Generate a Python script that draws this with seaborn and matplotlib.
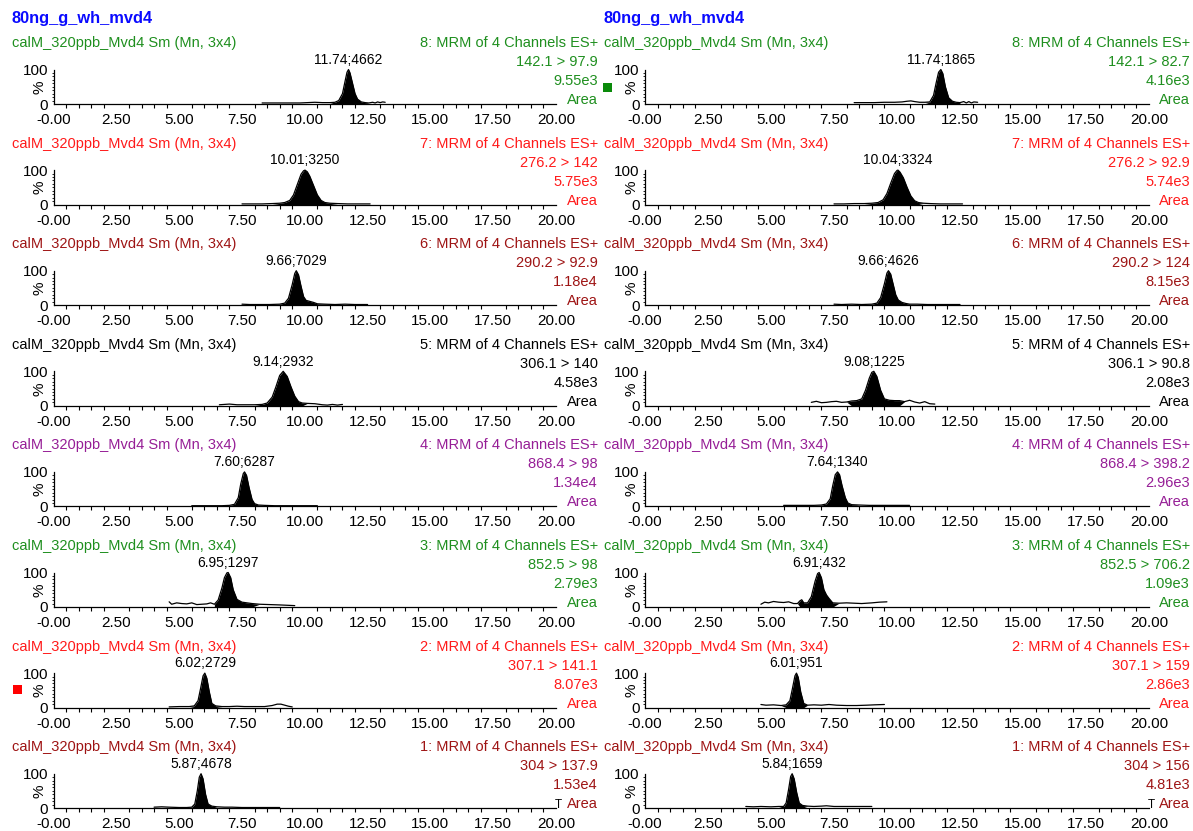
import numpy as np
import matplotlib
matplotlib.use("Agg")
import matplotlib.pyplot as plt
from matplotlib.patches import Rectangle
from matplotlib.ticker import FixedLocator, MultipleLocator
import seaborn as sns

# ---------------------------------------------------------------- data
sample_name = "80ng_g_wh_mvd4"
trace_title = "calM_320ppb_Mvd4 Sm (Mn, 3x4)"
channels = [8, 7, 6, 5, 4, 3, 2, 1]

transitions_left = ["142.1 > 97.9", "276.2 > 142", "290.2 > 92.9", "306.1 > 140",
                    "868.4 > 98", "852.5 > 98", "307.1 > 141.1", "304 > 137.9"]
transitions_right = ["142.1 > 82.7", "276.2 > 92.9", "290.2 > 124", "306.1 > 90.8",
                     "868.4 > 398.2", "852.5 > 706.2", "307.1 > 159", "304 > 156"]
intensity_left = ["9.55e3", "5.75e3", "1.18e4", "4.58e3", "1.34e4", "2.79e3", "8.07e3", "1.53e4"]
intensity_right = ["4.16e3", "5.74e3", "8.15e3", "2.08e3", "2.96e3", "1.09e3", "2.86e3", "4.81e3"]

peak_rt_left = [11.74, 10.01, 9.66, 9.14, 7.60, 6.95, 6.02, 5.87]
peak_area_left = [4662, 3250, 7029, 2932, 6287, 1297, 2729, 4678]
peak_rt_right = [11.74, 10.04, 9.66, 9.08, 7.64, 6.91, 6.01, 5.84]
peak_area_right = [1865, 3324, 4626, 1225, 1340, 432, 951, 1659]

# integration windows (min)
window_left = [(11.15, 12.5), (9.0, 11.0), (9.0, 10.8), (8.2, 10.0),
               (7.0, 8.3), (6.3, 8.0), (5.5, 6.5), (5.5, 6.4)]
window_right = [(11.2, 12.6), (9.0, 11.0), (9.0, 10.6), (8.2, 10.1),
                (7.0, 8.3), (6.1, 7.5), (5.6, 6.4), (5.5, 6.3)]

# chromatogram traces: retention time (min) and relative intensity (%)
rt_L8 = [8.3, 8.6, 9.0, 9.4, 9.8, 10.1, 10.4, 10.7, 11.0, 11.2, 11.35, 11.5, 11.6, 11.68, 11.74,
         11.8, 11.9, 12.0, 12.1, 12.25, 12.4, 12.55, 12.7, 12.8, 12.9, 13.0, 13.1, 13.2]
pct_L8 = [3, 3, 3, 3, 3, 4, 5, 4, 4, 5, 10, 30, 65, 92, 100,
          90, 60, 30, 14, 6, 4, 3, 5, 3, 6, 4, 6, 5]
rt_L7 = [7.5, 7.9, 8.3, 8.7, 9.0, 9.2, 9.4, 9.55, 9.7, 9.85, 9.95, 10.01, 10.1, 10.2, 10.35,
         10.5, 10.65, 10.8, 11.0, 11.3, 11.7, 12.1, 12.6]
pct_L7 = [2, 2, 2, 3, 4, 6, 12, 28, 58, 88, 98, 100, 95, 82, 55, 28, 12, 6, 4, 3, 2, 2, 2]
rt_L6 = [7.5, 7.8, 8.2, 8.6, 9.0, 9.2, 9.35, 9.5, 9.6, 9.66, 9.75, 9.85, 9.95, 10.05, 10.2,
         10.35, 10.5, 10.8, 11.2, 11.6, 12.0, 12.5]
pct_L6 = [3, 2, 2, 2, 3, 6, 20, 60, 92, 100, 88, 55, 25, 14, 11, 8, 4, 3, 2, 3, 2, 2]
rt_L5 = [6.6, 6.8, 7.0, 7.3, 7.6, 8.0, 8.3, 8.5, 8.7, 8.85, 9.0, 9.14, 9.3, 9.45, 9.6, 9.75,
         9.9, 10.1, 10.4, 10.7, 10.9, 11.1, 11.3, 11.5]
pct_L5 = [3, 4, 5, 3, 3, 3, 4, 8, 25, 55, 88, 100, 85, 55, 28, 12, 8, 7, 6, 3, 2, 4, 2, 4]
rt_L4 = [5.5, 5.9, 6.3, 6.7, 7.0, 7.2, 7.35, 7.45, 7.55, 7.6, 7.68, 7.78, 7.9, 8.0, 8.15,
         8.4, 8.8, 9.2, 9.6, 10.0, 10.5]
pct_L4 = [2, 2, 2, 2, 3, 6, 25, 65, 95, 100, 90, 55, 20, 8, 4, 3, 2, 2, 2, 2, 2]
rt_L3 = [4.6, 4.7, 4.9, 5.1, 5.3, 5.5, 5.7, 5.9, 6.1, 6.25, 6.4, 6.55, 6.7, 6.8, 6.9, 6.95,
         7.05, 7.15, 7.3, 7.5, 7.7, 7.9, 8.2, 8.6, 9.0, 9.3, 9.6]
pct_L3 = [15, 8, 12, 10, 9, 12, 7, 8, 9, 12, 8, 20, 55, 85, 99, 100,
          85, 50, 22, 14, 12, 10, 8, 7, 6, 5, 4]
rt_L2 = [4.6, 5.0, 5.4, 5.6, 5.75, 5.85, 5.95, 6.02, 6.1, 6.2, 6.3, 6.45, 6.7, 7.0, 7.3, 7.6,
         8.0, 8.4, 8.7, 8.9, 9.05, 9.2, 9.35, 9.5]
pct_L2 = [2, 3, 3, 5, 20, 55, 92, 100, 85, 45, 12, 5, 3, 3, 4, 3, 3, 3, 6, 10, 10, 7, 4, 2]
rt_L1 = [4.0, 4.3, 4.6, 5.0, 5.3, 5.5, 5.62, 5.72, 5.8, 5.87, 5.95, 6.05, 6.15, 6.3, 6.5,
         6.8, 7.1, 7.5, 8.0, 8.5, 9.0]
pct_L1 = [3, 4, 3, 2, 2, 3, 12, 50, 90, 100, 85, 40, 12, 6, 4, 3, 3, 2, 2, 2, 2]

rt_R8 = [8.3, 8.7, 9.1, 9.5, 9.9, 10.2, 10.4, 10.55, 10.7, 10.9, 11.1, 11.3, 11.45, 11.55,
         11.65, 11.74, 11.82, 11.92, 12.05, 12.2, 12.35, 12.5, 12.65, 12.75, 12.85, 12.95,
         13.05, 13.2]
pct_R8 = [4, 4, 4, 5, 5, 6, 8, 9, 7, 5, 5, 6, 25, 60, 92, 100, 88, 50, 18, 8, 5, 4, 7, 3, 7, 3, 6, 5]
rt_R7 = [7.5, 7.9, 8.3, 8.7, 9.0, 9.25, 9.45, 9.6, 9.75, 9.9, 10.0, 10.04, 10.12, 10.25, 10.4,
         10.55, 10.7, 10.85, 11.05, 11.3, 11.7, 12.1, 12.6]
pct_R7 = [2, 2, 3, 3, 4, 6, 14, 32, 62, 90, 99, 100, 94, 78, 50, 25, 11, 6, 4, 3, 2, 2, 2]
rt_R6 = [7.5, 7.8, 8.2, 8.6, 9.0, 9.2, 9.35, 9.5, 9.6, 9.66, 9.75, 9.85, 9.95, 10.05, 10.2,
         10.35, 10.5, 10.8, 11.2, 11.6, 12.0, 12.5]
pct_R6 = [3, 2, 3, 2, 3, 6, 22, 62, 93, 100, 90, 60, 30, 15, 8, 5, 3, 3, 2, 2, 2, 2]
rt_R5 = [6.6, 6.8, 7.0, 7.2, 7.4, 7.6, 7.8, 8.0, 8.2, 8.4, 8.6, 8.75, 8.9, 9.0, 9.08, 9.2,
         9.35, 9.5, 9.7, 9.9, 10.1, 10.3, 10.5, 10.7, 10.9, 11.1, 11.3, 11.5]
pct_R5 = [10, 13, 9, 10, 12, 13, 10, 11, 14, 15, 20, 45, 80, 97, 100, 85,
          45, 20, 16, 15, 15, 12, 16, 11, 8, 12, 6, 5]
rt_R4 = [5.5, 5.9, 6.3, 6.7, 7.0, 7.2, 7.35, 7.45, 7.55, 7.64, 7.72, 7.82, 7.95, 8.05, 8.2,
         8.5, 8.9, 9.3, 9.7, 10.1, 10.5]
pct_R4 = [3, 3, 3, 3, 4, 7, 22, 60, 92, 100, 92, 60, 25, 10, 5, 4, 3, 3, 3, 3, 3]
rt_R3 = [4.6, 4.75, 4.9, 5.1, 5.3, 5.5, 5.7, 5.9, 6.05, 6.15, 6.22, 6.3, 6.45, 6.6, 6.75,
         6.85, 6.91, 7.0, 7.1, 7.2, 7.3, 7.45, 7.7, 8.0, 8.3, 8.6, 9.0, 9.3, 9.6]
pct_R3 = [8, 14, 12, 16, 14, 13, 15, 10, 10, 18, 21, 12, 12, 30, 75,
          97, 100, 85, 50, 35, 25, 12, 11, 12, 11, 10, 12, 14, 15]
rt_R2 = [4.6, 4.8, 5.1, 5.4, 5.6, 5.75, 5.85, 5.95, 6.01, 6.08, 6.18, 6.3, 6.45, 6.7, 7.0,
         7.3, 7.6, 8.0, 8.4, 8.8, 9.1, 9.5]
pct_R2 = [9, 7, 8, 6, 8, 20, 55, 92, 100, 88, 45, 12, 7, 8, 7, 9, 7, 6, 6, 7, 8, 9]
rt_R1 = [4.0, 4.3, 4.6, 5.0, 5.3, 5.5, 5.6, 5.7, 5.78, 5.84, 5.92, 6.02, 6.12, 6.25, 6.45,
         6.7, 7.0, 7.2, 7.5, 8.0, 8.5, 9.0]
pct_R1 = [5, 4, 5, 4, 5, 5, 15, 55, 92, 100, 85, 45, 15, 8, 6, 5, 6, 7, 5, 5, 5, 5]

traces_left = [(rt_L8, pct_L8), (rt_L7, pct_L7), (rt_L6, pct_L6), (rt_L5, pct_L5),
               (rt_L4, pct_L4), (rt_L3, pct_L3), (rt_L2, pct_L2), (rt_L1, pct_L1)]
traces_right = [(rt_R8, pct_R8), (rt_R7, pct_R7), (rt_R6, pct_R6), (rt_R5, pct_R5),
                (rt_R4, pct_R4), (rt_R3, pct_R3), (rt_R2, pct_R2), (rt_R1, pct_R1)]

x_ticks = [0, 2.5, 5, 7.5, 10, 12.5, 15, 17.5, 20]
x_tick_labels = ["-0.00", "2.50", "5.00", "7.50", "10.00", "12.50", "15.00", "17.50", "20.00"]

# ---------------------------------------------------------------- style
GREEN = "#1f8f1f"
RED = "#ff1a1a"
DARKRED = "#9e1414"
PURPLE = "#961e96"
BLACK = "#000000"
channel_colors = {8: GREEN, 7: RED, 6: DARKRED, 5: BLACK, 4: PURPLE, 3: GREEN, 2: RED, 1: DARKRED}

sns.set_theme(style="white")
plt.rcParams['font.family'] = ['Liberation Sans Narrow', 'Liberation Sans', 'DejaVu Sans']

W, H = 1193, 831
fig = plt.figure(figsize=(W / 100, H / 100), dpi=100)
fig.patch.set_facecolor("white")


def fx(px):
    return px / W


def fy(py):
    return 1 - py / H


TXT = 10.5
TICK = 11
ROW0, ROWSTEP = 43, 100.6
columns = [
    dict(ax_left=53.6, ax_right=556, text_left=12, text_right=598,
         transitions=transitions_left, intens=intensity_left,
         rts=peak_rt_left, areas=peak_area_left, windows=window_left, traces=traces_left),
    dict(ax_left=645, ax_right=1149, text_left=604, text_right=1190,
         transitions=transitions_right, intens=intensity_right,
         rts=peak_rt_right, areas=peak_area_right, windows=window_right, traces=traces_right),
]

for col in columns:
    fig.text(fx(col["text_left"]), fy(18), sample_name, color="#0a0aff",
             fontsize=11.8, fontweight="bold", ha="left", va="center",
             family=["Liberation Sans", "DejaVu Sans"])
    for i, ch in enumerate(channels):
        y0 = ROW0 + ROWSTEP * i
        color = channel_colors[ch]
        ax = fig.add_axes([fx(col["ax_left"]), fy(y0 + 61),
                           (col["ax_right"] - col["ax_left"]) / W, 34.5 / H])
        rt, pct = col["traces"][i]
        rt_a = np.asarray(rt)
        pct_a = np.asarray(pct)
        a, b = col["windows"][i]
        ax.fill_between(rt_a, pct_a, 0, where=(rt_a >= a) & (rt_a <= b),
                        color="black", lw=0, interpolate=True)
        sns.lineplot(x=rt, y=pct, ax=ax, color="black", lw=0.9, sort=False,
                     estimator=None, clip_on=False)
        ax.set_xlim(0, 20)
        ax.set_ylim(0, 100)
        for s in ("top", "right"):
            ax.spines[s].set_visible(False)
        for s in ("left", "bottom"):
            ax.spines[s].set_color("black")
            ax.spines[s].set_linewidth(0.9)
        ax.xaxis.set_major_locator(FixedLocator(x_ticks))
        ax.set_xticklabels(x_tick_labels)
        ax.xaxis.set_minor_locator(MultipleLocator(0.5))
        ax.yaxis.set_major_locator(FixedLocator([0, 100]))
        ax.set_yticklabels(["0", "100"])
        ax.yaxis.set_minor_locator(MultipleLocator(10))
        ax.tick_params(axis="x", which="major", direction="out", length=4.5, width=0.8,
                       color="black", labelsize=TICK, pad=2, labelcolor="black")
        ax.tick_params(axis="x", which="minor", direction="out", length=3, width=0.8,
                       color="black", bottom=True)
        ax.tick_params(axis="y", which="major", direction="out", length=3.5, width=0.8,
                       color="black", labelsize=TICK, pad=0.5, labelcolor="black")
        ax.tick_params(axis="y", which="minor", direction="out", length=1.8, width=0.6,
                       color="black", left=True)
        ax.set_xlabel("")
        ax.set_ylabel("")
        ax.set_facecolor("none")

        # peak annotation
        rt_pk = col["rts"][i]
        ax.annotate(f"{rt_pk:.2f};{col['areas'][i]}", xy=(rt_pk, 100),
                    xytext=(0, 7), textcoords="offset points", ha="center", va="center",
                    fontsize=10, color="black", annotation_clip=False)

        # header / side labels
        fig.text(fx(col["ax_left"] - 14), fy(y0 + 44), "%", rotation=90,
                 ha="center", va="center", fontsize=TICK, color="black")
        fig.text(fx(col["text_left"]), fy(y0), trace_title, color=color,
                 fontsize=TXT, ha="left", va="center")
        fig.text(fx(col["text_right"]), fy(y0), f"{ch}: MRM of 4 Channels ES+",
                 color=color, fontsize=TXT, ha="right", va="center")
        fig.text(fx(col["text_right"]), fy(y0 + 19), col["transitions"][i],
                 color=color, fontsize=TXT, ha="right", va="center")
        fig.text(fx(col["text_right"]), fy(y0 + 38), col["intens"][i],
                 color=color, fontsize=TXT, ha="right", va="center")
        fig.text(fx(col["text_right"]), fy(y0 + 57), "Area",
                 color=color, fontsize=TXT, ha="right", va="center")

    # small marker at the lower right of the last trace
    fig.text(fx(col["ax_right"] + 6), fy(ROW0 + ROWSTEP * 7 + 58), "T",
             ha="right", va="center", fontsize=8.5, color="black")

# selection markers
fig.patches.append(Rectangle((fx(603), fy(92)), 9.5 / W, 9.5 / H,
                             transform=fig.transFigure, color="#0a8a0a", lw=0))
fig.patches.append(Rectangle((fx(13), fy(694)), 9.5 / W, 9.5 / H,
                             transform=fig.transFigure, color="#ff0000", lw=0))

fig.savefig("out.png", dpi=100, facecolor="white")
